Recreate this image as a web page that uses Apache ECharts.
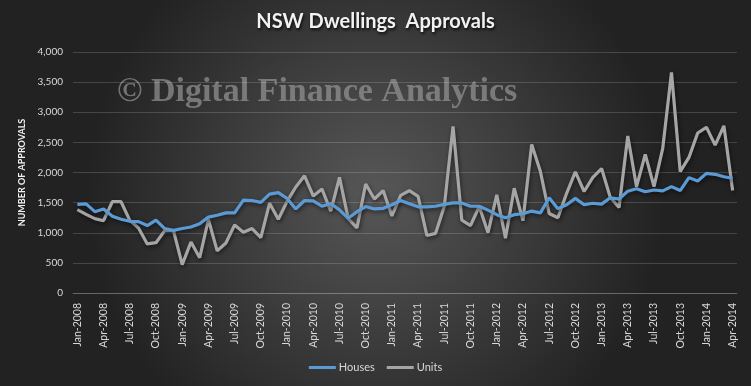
<!DOCTYPE html>
<html>
<head>
<meta charset="utf-8">
<script src="https://cdn.jsdelivr.net/npm/echarts@6/dist/echarts.min.js"></script>
<style>html,body{margin:0;padding:0;background:#333;}#c{width:751px;height:386px;}</style>
</head>
<body>
<div id="c"></div>
<script>
var categories = [
 'Jan-2008','Feb-2008','Mar-2008','Apr-2008','May-2008','Jun-2008','Jul-2008','Aug-2008','Sep-2008','Oct-2008','Nov-2008','Dec-2008',
 'Jan-2009','Feb-2009','Mar-2009','Apr-2009','May-2009','Jun-2009','Jul-2009','Aug-2009','Sep-2009','Oct-2009','Nov-2009','Dec-2009',
 'Jan-2010','Feb-2010','Mar-2010','Apr-2010','May-2010','Jun-2010','Jul-2010','Aug-2010','Sep-2010','Oct-2010','Nov-2010','Dec-2010',
 'Jan-2011','Feb-2011','Mar-2011','Apr-2011','May-2011','Jun-2011','Jul-2011','Aug-2011','Sep-2011','Oct-2011','Nov-2011','Dec-2011',
 'Jan-2012','Feb-2012','Mar-2012','Apr-2012','May-2012','Jun-2012','Jul-2012','Aug-2012','Sep-2012','Oct-2012','Nov-2012','Dec-2012',
 'Jan-2013','Feb-2013','Mar-2013','Apr-2013','May-2013','Jun-2013','Jul-2013','Aug-2013','Sep-2013','Oct-2013','Nov-2013','Dec-2013',
 'Jan-2014','Feb-2014','Mar-2014','Apr-2014'
];
var houses = [
 1470,1480,1350,1395,1275,1225,1190,1185,1120,1210,1070,1040,
 1070,1095,1150,1260,1290,1330,1330,1540,1535,1505,1640,1665,
 1570,1395,1535,1530,1440,1485,1380,1240,1350,1435,1395,1405,
 1465,1535,1480,1430,1430,1440,1470,1495,1495,1440,1440,1375,
 1300,1250,1300,1315,1360,1330,1580,1400,1465,1570,1465,1490,
 1475,1580,1560,1690,1730,1680,1710,1695,1765,1700,1915,1860,
 1985,1970,1930,1905
];
var units = [
 1385,1305,1235,1200,1515,1515,1205,1080,815,835,1035,1035,
 470,845,585,1220,700,830,1130,1010,1070,920,1490,1225,
 1520,1760,1945,1610,1725,1360,1920,1235,1080,1810,1560,1700,
 1280,1620,1700,1605,955,990,1440,2765,1210,1120,1435,1000,
 1630,910,1740,1200,2465,2015,1320,1250,1655,2010,1685,1920,
 2065,1585,1420,2605,1765,2300,1765,2400,3660,2015,2250,2655,
 2750,2455,2775,1700
];
var yTicks = {min: 0, max: 4000, interval: 500};

var chart = echarts.init(document.getElementById('c'));
var lineShadow = {shadowColor: 'rgba(0,0,0,0.55)', shadowBlur: 4, shadowOffsetX: 1, shadowOffsetY: 2};
chart.setOption({
  backgroundColor: {
    type: 'radial', x: 0.5, y: 0.5, r: 0.75,
    colorStops: [{offset: 0, color: '#575757'}, {offset: 1, color: '#222222'}]
  },
  animation: false,
  title: {
    text: 'NSW Dwellings  Approvals',
    left: 'center', top: 7,
    textStyle: {
      color: '#f2f2f2', fontFamily: 'Lato', fontWeight: 'bold', fontSize: 20,
      textShadowColor: 'rgba(0,0,0,0.8)', textShadowBlur: 3, textShadowOffsetX: 1, textShadowOffsetY: 2
    }
  },
  graphic: [{
    type: 'text', left: 117, top: 75, silent: true, z: 0,
    style: {
      text: '\u00A9 Digital Finance Analytics',
      font: 'bold 34px "Liberation Serif"',
      fill: 'rgba(150,150,150,0.7)'
    }
  }],
  legend: {
    bottom: 8, left: 'center',
    icon: 'rect', itemWidth: 27, itemHeight: 3, itemGap: 12,
    textStyle: {color: '#d9d9d9', fontFamily: 'Lato', fontSize: 11, padding: [0,0,0,-2]},
    data: ['Houses', 'Units']
  },
  grid: {left: 73, right: 14, top: 52, bottom: 93, containLabel: false},
  xAxis: {
    type: 'category', data: categories, boundaryGap: true,
    axisLine: {show: true, lineStyle: {color: 'rgba(255,255,255,0.18)', width: 1}},
    axisTick: {show: false},
    axisLabel: {interval: 2, rotate: 90, color: '#d9d9d9', fontFamily: 'Lato', fontSize: 10.5, margin: 10}
  },
  yAxis: {
    type: 'value', min: yTicks.min, max: yTicks.max, interval: yTicks.interval,
    name: 'NUMBER OF APPROVALS', nameLocation: 'middle', nameGap: 46,
    nameTextStyle: {color: '#f2f2f2', fontFamily: 'Lato', fontWeight: 'bold', fontSize: 9},
    axisLine: {show: false}, axisTick: {show: false},
    axisLabel: {color: '#d9d9d9', fontFamily: 'Lato', fontSize: 10, margin: 10,
      formatter: function (v) { return v.toLocaleString('en-US'); }},
    splitLine: {lineStyle: {color: 'rgba(255,255,255,0.16)', width: 1}}
  },
  series: [
    {name: 'Houses', type: 'line', data: houses, symbol: 'none', z: 3,
     itemStyle: {color: '#5b9bd5'},
     lineStyle: Object.assign({color: '#5b9bd5', width: 3.2}, lineShadow)},
    {name: 'Units', type: 'line', data: units, symbol: 'none', z: 2,
     itemStyle: {color: '#a5a5a5'},
     lineStyle: Object.assign({color: '#a5a5a5', width: 3.2}, lineShadow)}
  ]
});
</script>
</body>
</html>
